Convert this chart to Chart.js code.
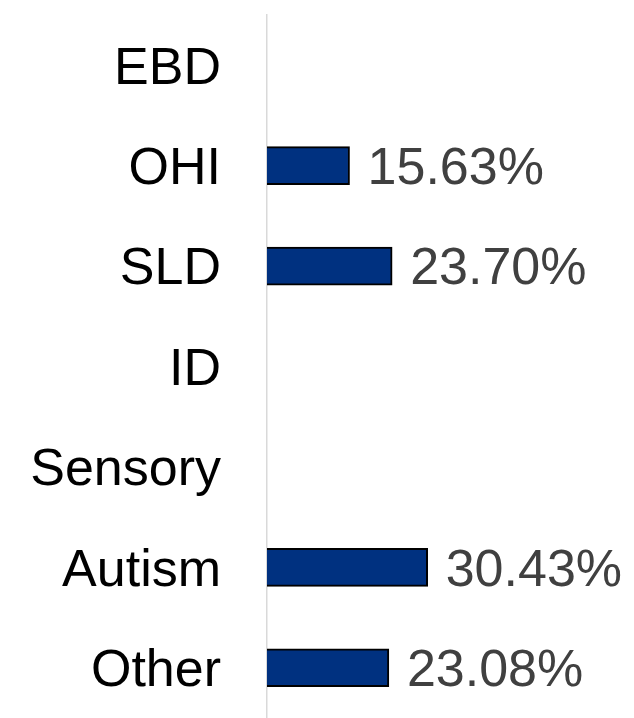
<!DOCTYPE html>
<html>
<head>
<meta charset="utf-8">
<script src="https://cdn.jsdelivr.net/npm/chart.js@4"></script>
<style>
html,body{margin:0;padding:0;background:#fff;}
#wrap{width:634px;height:718px;position:relative;}
</style>
</head>
<body>
<div id="wrap"><canvas id="c"></canvas></div>
<script>
const categories = ["EBD", "OHI", "SLD", "ID", "Sensory", "Autism", "Other"];
const values = [null, 15.63, 23.70, null, null, 30.43, 23.08];
const valueLabels = ["", "15.63%", "23.70%", "", "", "30.43%", "23.08%"];

const FONT = '"Liberation Sans", Arial, sans-serif';

const barLabels = {
  id: 'barLabels',
  afterDatasetsDraw(chart) {
    const ctx = chart.ctx;
    const meta = chart.getDatasetMeta(0);
    ctx.save();
    ctx.font = '52px ' + FONT;
    ctx.fillStyle = '#404040';
    ctx.textAlign = 'left';
    ctx.textBaseline = 'middle';
    meta.data.forEach((el, i) => {
      if (values[i] === null) return;
      ctx.fillText(valueLabels[i], el.x + 18, el.y + 4);
    });
    ctx.restore();
  }
};

new Chart(document.getElementById('c'), {
  type: 'bar',
  data: {
    labels: categories,
    datasets: [{
      data: values,
      backgroundColor: '#003180',
      borderColor: '#000000',
      borderWidth: 2,
      barThickness: 38
    }]
  },
  options: {
    indexAxis: 'y',
    responsive: true,
    maintainAspectRatio: false,
    animation: false,
    layout: { padding: { left: 30, right: 0, top: 15, bottom: -4 } },
    plugins: { legend: { display: false }, tooltip: { enabled: false } },
    scales: {
      x: { display: false, min: 0, max: 69.5 },
      y: {
        grid: { display: false, drawTicks: false },
        border: { display: true, color: '#D9D9D9', width: 1.5 },
        ticks: {
          color: '#000000',
          padding: 46,
          labelOffset: 4,
          font: { family: FONT, size: 52 }
        },
        afterFit(scale) {
          scale.width = 237;
          scale.paddingTop = 0;
          scale.paddingBottom = 0;
        }
      }
    }
  },
  plugins: [barLabels]
});
</script>
</body>
</html>
